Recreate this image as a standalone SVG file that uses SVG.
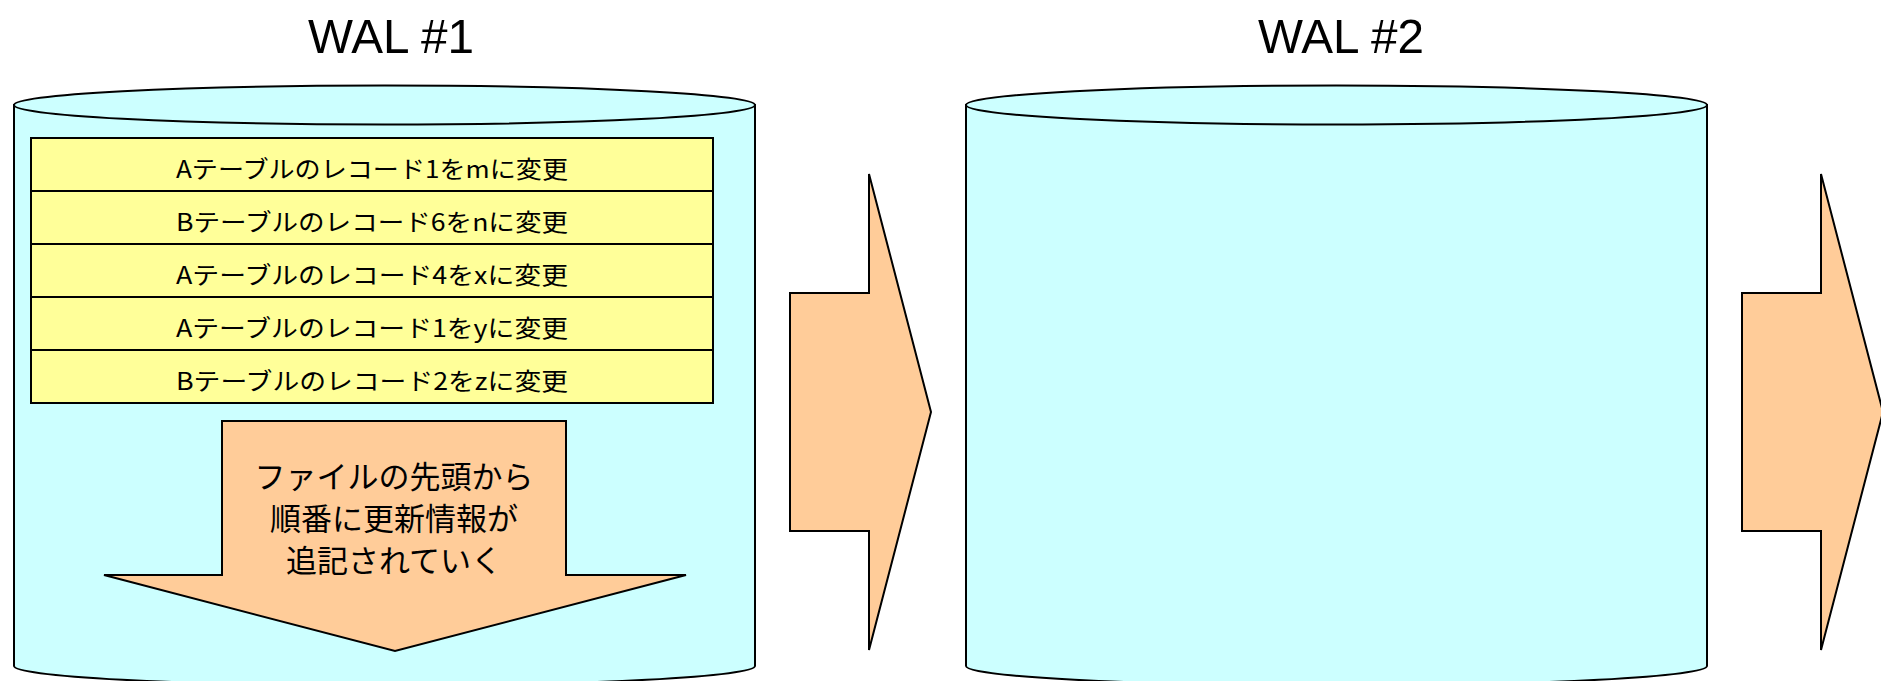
<svg xmlns="http://www.w3.org/2000/svg" width="1881" height="681" viewBox="0 0 1881 681">
<style>
.title{font-family:"Liberation Sans",Arial,sans-serif;font-size:49px;fill:#000;text-anchor:middle}
.cyl{fill:#CCFFFF;stroke:#000;stroke-width:2}
.rec{fill:#FFFF99;stroke:#000;stroke-width:2}
.arr{fill:#FFCC99;stroke:#000;stroke-width:2;stroke-linejoin:miter}
.rt{font-family:"Noto Sans CJK JP","Noto Sans",sans-serif;font-size:24px;fill:#000;text-anchor:middle}
.at{font-family:"Noto Sans CJK JP","Noto Sans",sans-serif;font-size:31px;fill:#000;text-anchor:middle}
</style>
<rect width="1881" height="681" fill="#fff"/>
<g id="wal1">
<text class="title" x="391" y="53" textLength="166" lengthAdjust="spacingAndGlyphs">WAL #1</text>
<path class="cyl" d="M14,105 L14,666 A370.5,19.5 0 0 0 755,666 L755,105 Z"/>
<ellipse class="cyl" cx="384.5" cy="105" rx="370.5" ry="19.5"/>
</g>
<g id="records">
<g id="rec1"><rect class="rec" x="31" y="138" width="682" height="53"/><text class="rt" x="372" y="178" textLength="392" lengthAdjust="spacingAndGlyphs">Aテーブルのレコード1をmに変更</text></g>
<g id="rec2"><rect class="rec" x="31" y="191" width="682" height="53"/><text class="rt" x="372" y="231" textLength="392" lengthAdjust="spacingAndGlyphs">Bテーブルのレコード6をnに変更</text></g>
<g id="rec3"><rect class="rec" x="31" y="244" width="682" height="53"/><text class="rt" x="372" y="284" textLength="392" lengthAdjust="spacingAndGlyphs">Aテーブルのレコード4をxに変更</text></g>
<g id="rec4"><rect class="rec" x="31" y="297" width="682" height="53"/><text class="rt" x="372" y="337" textLength="392" lengthAdjust="spacingAndGlyphs">Aテーブルのレコード1をyに変更</text></g>
<g id="rec5"><rect class="rec" x="31" y="350" width="682" height="53"/><text class="rt" x="372" y="390" textLength="392" lengthAdjust="spacingAndGlyphs">Bテーブルのレコード2をzに変更</text></g>
</g>
<g id="downArrow">
<polygon class="arr" points="222,421 566,421 566,575 686,575 395,651 104,575 222,575"/>
<text class="at" x="394" y="488">ファイルの先頭から</text>
<text class="at" x="394" y="530">順番に更新情報が</text>
<text class="at" x="394" y="572">追記されていく</text>
</g>
<g id="wal2">
<text class="title" x="1341" y="53" textLength="166" lengthAdjust="spacingAndGlyphs">WAL #2</text>
<path class="cyl" d="M966,105 L966,666 A370.5,19.5 0 0 0 1707,666 L1707,105 Z"/>
<ellipse class="cyl" cx="1336.5" cy="105" rx="370.5" ry="19.5"/>
</g>
<g id="connectors">
<polygon class="arr" points="790,293 869,293 869,174 931,412 869,650 869,531 790,531"/>
<polygon class="arr" points="1742,293 1821,293 1821,174 1883,412 1821,650 1821,531 1742,531"/>
</g>
</svg>
